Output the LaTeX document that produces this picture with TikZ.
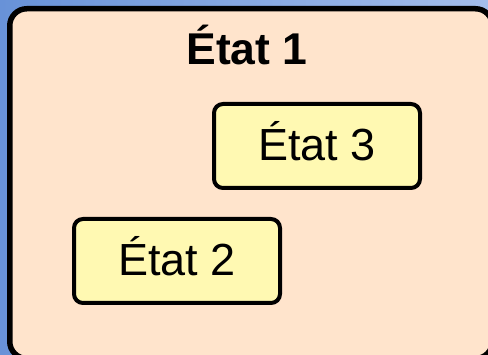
\documentclass[tikz,border=0pt]{standalone}
\usepackage{fontspec}
\setmainfont{Liberation Sans}
\definecolor{bgblueL}{RGB}{104,146,216}
\definecolor{bgblueR}{RGB}{164,190,236}
\definecolor{peach}{RGB}{255,228,204}
\definecolor{statey}{RGB}{255,249,178}
\tikzset{
  statebox/.style={draw=black, line width=4pt, fill=statey, rounded corners=9pt,
    minimum width=206pt, minimum height=84pt, inner sep=0pt,
    text height=40pt, text depth=10pt,
    font=\fontsize{45}{52}\selectfont},
  outerbox/.style={draw=black, line width=5.5pt, fill=peach, rounded corners=17pt},
  titletext/.style={anchor=base, inner sep=0pt, font=\fontsize{44.5}{52}\selectfont\bfseries}
}
\begin{document}
\begin{tikzpicture}[x=1pt,y=-1pt]
\useasboundingbox (0,0) rectangle (488,355);
\clip (0,0) rectangle (488,355);
\shade[left color=bgblueL, right color=bgblueR] (0,0) rectangle (488,355);
\draw[outerbox] (9.75,8.75) rectangle (492.5,358.5);
\node[titletext] (t1) at (247,65) {État 1};
\node[statebox] (s3) at (317,146) {État 3};
\node[statebox] (s2) at (177,261) {État 2};
\end{tikzpicture}
\end{document}
